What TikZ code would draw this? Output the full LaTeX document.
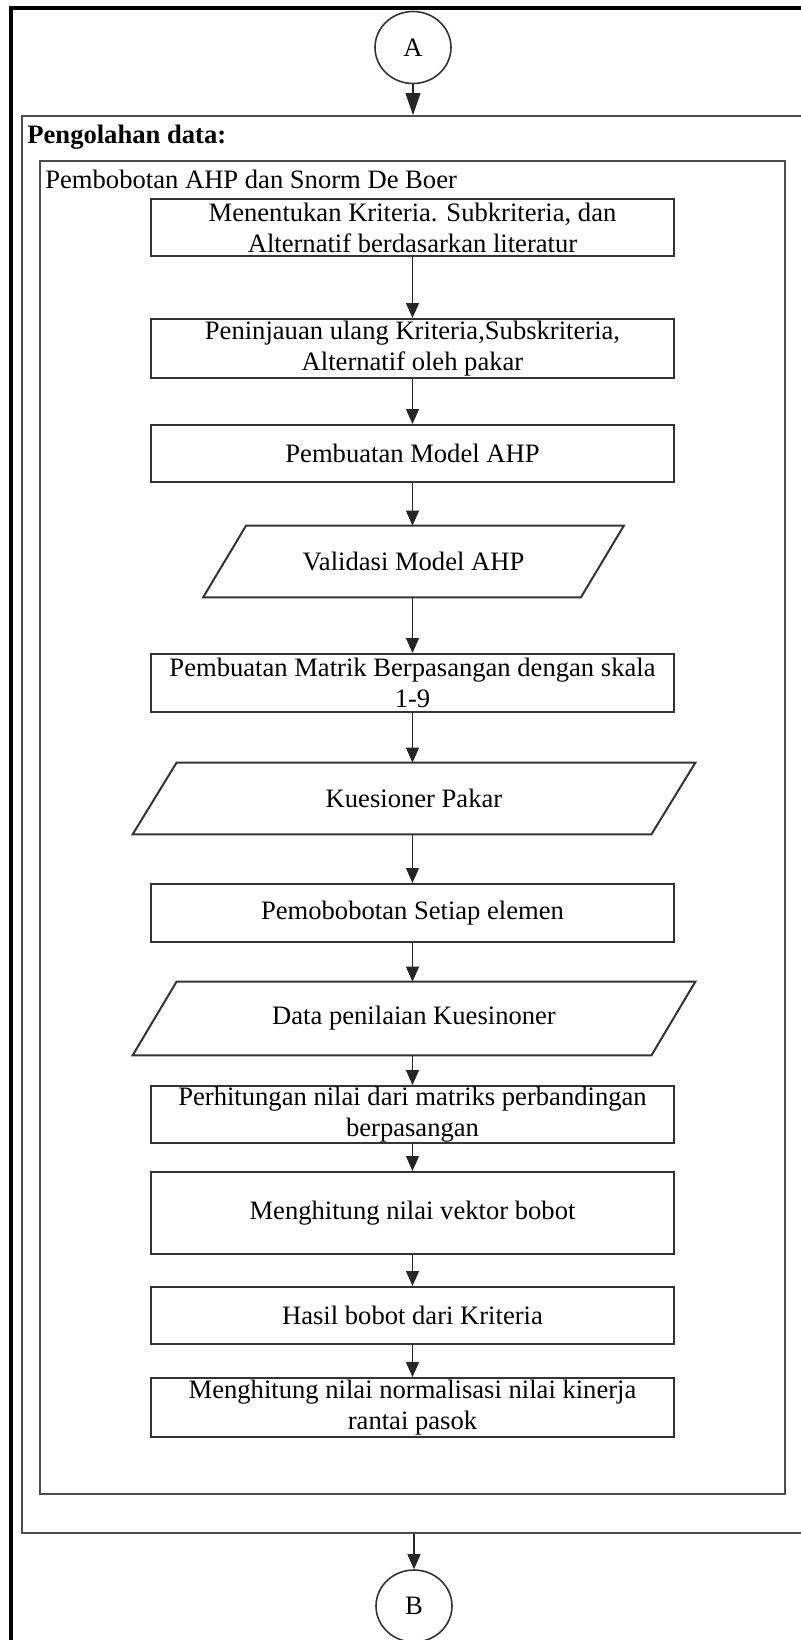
\documentclass[tikz,border=0pt]{standalone}
\usepackage{fontspec}
\setmainfont{Liberation Serif}
\usetikzlibrary{arrows.meta,shapes.geometric,calc}

\begin{document}
\begin{tikzpicture}[x=0.5pt,y=-0.5pt,
  every node/.style={font=\fontsize{13.3pt}{15.5pt}\selectfont},
  frame/.style={draw=black!70, line width=1pt, inner sep=0pt},
  stepbox/.style={draw=black!80, line width=1pt, inner sep=0pt,
    minimum width=261.5pt, align=center},
  iobox/.style={inner sep=0pt, align=center},
  pgram/.style={draw=black!80, line width=1pt},
  conn/.style={draw=black!85, line width=0.65pt,
    -{Triangle[width=6.5pt,length=7.5pt]}},
  connbig/.style={draw=black!85, line width=0.65pt,
    -{Triangle[width=7.5pt,length=11pt]}},
  offpage/.style={draw=black!80, line width=0.8pt, shape=ellipse,
    minimum width=38pt, minimum height=36pt, inner sep=0pt},
]
\useasboundingbox (0,0) rectangle (801,1640);
\fill[white] (0,0) rectangle (801,1640);
\clip (0,0) rectangle (801,1640);

% page frame
\draw[line width=2pt, black] (11,1700) -- (11,7.5) -- (860,7.5);

% swimlane frames
\node[frame, minimum width=404pt, minimum height=708.5pt] (proc) at (426,824.5) {};
\node[frame, minimum width=372.5pt, minimum height=666.5pt] (ahp) at (412.5,827.5) {};
\node[anchor=base west, inner sep=0pt,
  font=\fontsize{13.3pt}{15.5pt}\selectfont\bfseries] (proclbl) at (27,143) {Pengolahan data:};
\node[anchor=base west, inner sep=0pt] (ahplbl) at (45,188) {Pembobotan AHP dan Snorm De Boer};

% off-page connectors
\node[offpage] (A) at (413,47.5) {A};
\node[offpage] (B) at (414,1606) {B};

% process steps
\node[stepbox, minimum height=28.5pt] (s1) at (412.5,227.5)
  {Menentukan Kriteria. Subkriteria, dan\\Alternatif berdasarkan literatur};
\node[stepbox, minimum height=29.5pt] (s2) at (412.5,348.5)
  {Peninjauan ulang Kriteria,Subskriteria,\\Alternatif oleh pakar};
\node[stepbox, minimum height=28.5pt] (s3) at (412.5,453.5) {Pembuatan Model AHP};
\node[iobox, minimum width=188.5pt, minimum height=35.5pt] (s4) at (413.5,561.5) {Validasi Model AHP};
\node[stepbox, minimum height=29pt] (s5) at (412.5,683)
  {Pembuatan Matrik Berpasangan dengan skala\\1-9};
\node[iobox, minimum width=259pt, minimum height=35.5pt] (s6) at (414,798.5) {Kuesioner Pakar};
\node[stepbox, minimum height=29pt] (s7) at (412.5,913) {Pemobobotan Setiap elemen};
\node[iobox, minimum width=259pt, minimum height=36.5pt] (s8) at (414,1018.5) {Data penilaian Kuesinoner};
\node[stepbox, minimum height=28.5pt] (s9) at (412.5,1114.5)
  {Perhitungan nilai dari matriks perbandingan\\berpasangan};
\node[stepbox, minimum height=41pt] (s10) at (412.5,1213) {Menghitung nilai vektor bobot};
\node[stepbox, minimum height=28.5pt] (s11) at (412.5,1315.5) {Hasil bobot dari Kriteria};
\node[stepbox, minimum height=29.5pt] (s12) at (412.5,1407.5)
  {Menghitung nilai normalisasi nilai kinerja\\rantai pasok};

% data (parallelogram) outlines
\draw[pgram] ($(s4.north west)+(21.5,0)$) -- ($(s4.north east)+(21.5,0)$)
  -- ($(s4.south east)+(-21.5,0)$) -- ($(s4.south west)+(-21.5,0)$) -- cycle;
\foreach \n in {s6,s8}
  \draw[pgram] ($(\n.north west)+(22,0)$) -- ($(\n.north east)+(22,0)$)
    -- ($(\n.south east)+(-22,0)$) -- ($(\n.south west)+(-22,0)$) -- cycle;

% connectors
\draw[connbig] (A.south) -- (A.south |- proc.north);
\foreach \a/\b in {s1/s2,s2/s3,s3/s4,s4/s5,s5/s6,s6/s7,s7/s8,s8/s9,s9/s10,s10/s11,s11/s12}
  \draw[conn] (\a.south -| s1.south) -- (\b.north -| s1.south);
\draw[conn] (B.north |- proc.south) -- (B.north);
\end{tikzpicture}
\end{document}
